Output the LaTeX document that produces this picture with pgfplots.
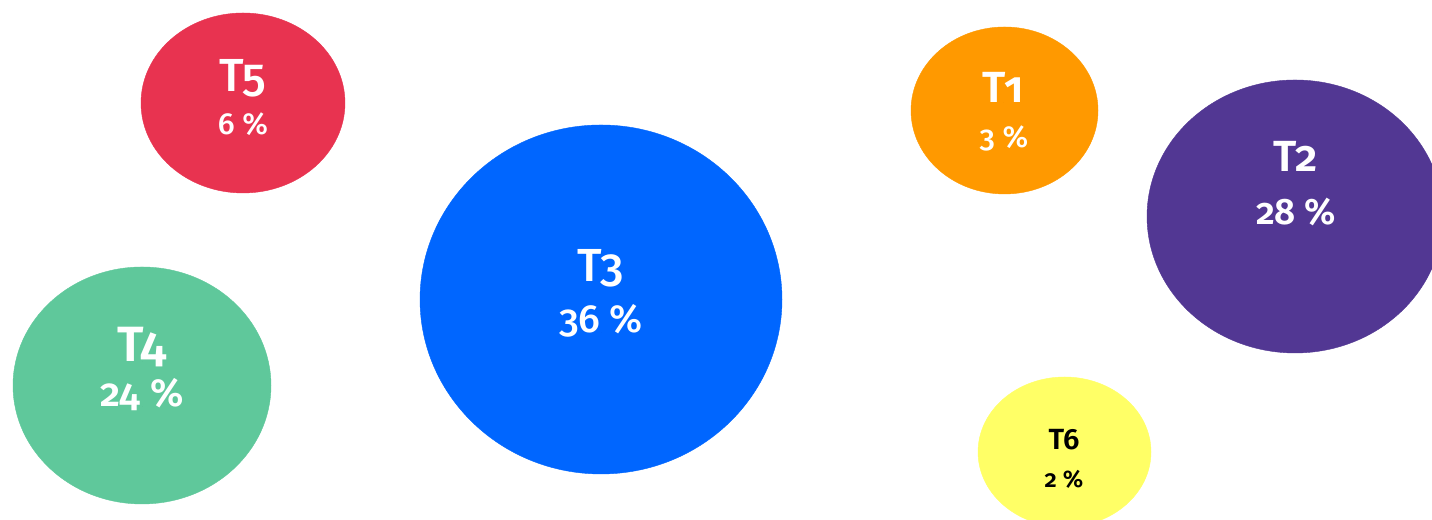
\documentclass[border=0pt]{standalone}
\usepackage{pgfplots}
\pgfplotsset{compat=1.18}
\usepackage{fontspec}
\setmainfont{Fira Sans}[UprightFont={* Medium}, BoldFont={* SemiBold}, Numbers=OldStyle]
\definecolor{cT1}{HTML}{FF9900}
\definecolor{cT2}{HTML}{523793}
\definecolor{cT3}{HTML}{0066FF}
\definecolor{cT4}{HTML}{5FC89B}
\definecolor{cT5}{HTML}{E83350}
\definecolor{cT6}{HTML}{FFFF66}
\pgfplotsset{
  lab/.style={only marks, mark=*, mark size=0pt, mark options={draw=none},
    nodes near coords align={anchor=base},
    every node near coord/.style={inner sep=0pt}},
}
% bubble: colour, x, y, mark size (= y radius), x stretch
\newcommand\bubble[5]{%
  \addplot[only marks, color=#1, mark=*, mark size=#4,
    mark options={xscale=#5, fill=#1, draw=#1, line width=0.1pt}]
    coordinates {(#2,#3)};}
% label: x, y, text, size, weight, colour
\newcommand\lab[6]{%
  \addplot[lab, nodes near coords={#3},
    every node near coord/.append style={text=#6, font=#5\fontsize{#4}{#4}\selectfont}]
    coordinates {(#1,#2)};}
\begin{document}
\begin{tikzpicture}
\begin{axis}[
  width=358pt, height=130pt, scale only axis,
  xmin=0, xmax=1432, ymin=0, ymax=520,
  hide axis, clip=true, clip marker paths=true,
]
\bubble{cT1}{1004.5}{409.5}{20.875pt}{1.1198}
\bubble{cT2}{1295}{303.5}{34.125pt}{1.0842}
\bubble{cT3}{601}{220.5}{43.625pt}{1.0372}
\bubble{cT4}{142}{134.5}{29.625pt}{1.0886}
\bubble{cT5}{243}{417}{22.5pt}{1.1333}
\bubble{cT6}{1064.5}{68}{18.75pt}{1.1533}
\lab{1003}{417}{T1}{10.9}{\bfseries}{white}
\lab{1004}{372}{3\ \%}{7.6}{}{white}
\lab{1296}{348}{T2}{10.9}{\bfseries}{white}
\lab{1296}{295}{28\ \%}{9.2}{\bfseries}{white}
\lab{601}{238}{T3}{11.6}{}{white}
\lab{601}{187}{36\ \%}{9.8}{}{white}
\lab{142}{158}{T4}{12.4}{\bfseries}{white}
\lab{142}{113}{24\ \%}{9.8}{\bfseries}{white}
\lab{243}{428}{T5}{11.6}{}{white}
\lab{243}{385}{6\ \%}{7.6}{}{white}
\lab{1064}{70}{T6}{7.3}{\bfseries}{black}
\lab{1064}{32}{2\ \%}{6.0}{\bfseries}{black}
\end{axis}
\pgfresetboundingbox
\path (current axis.south west) rectangle (current axis.north east);
\end{tikzpicture}
\end{document}
